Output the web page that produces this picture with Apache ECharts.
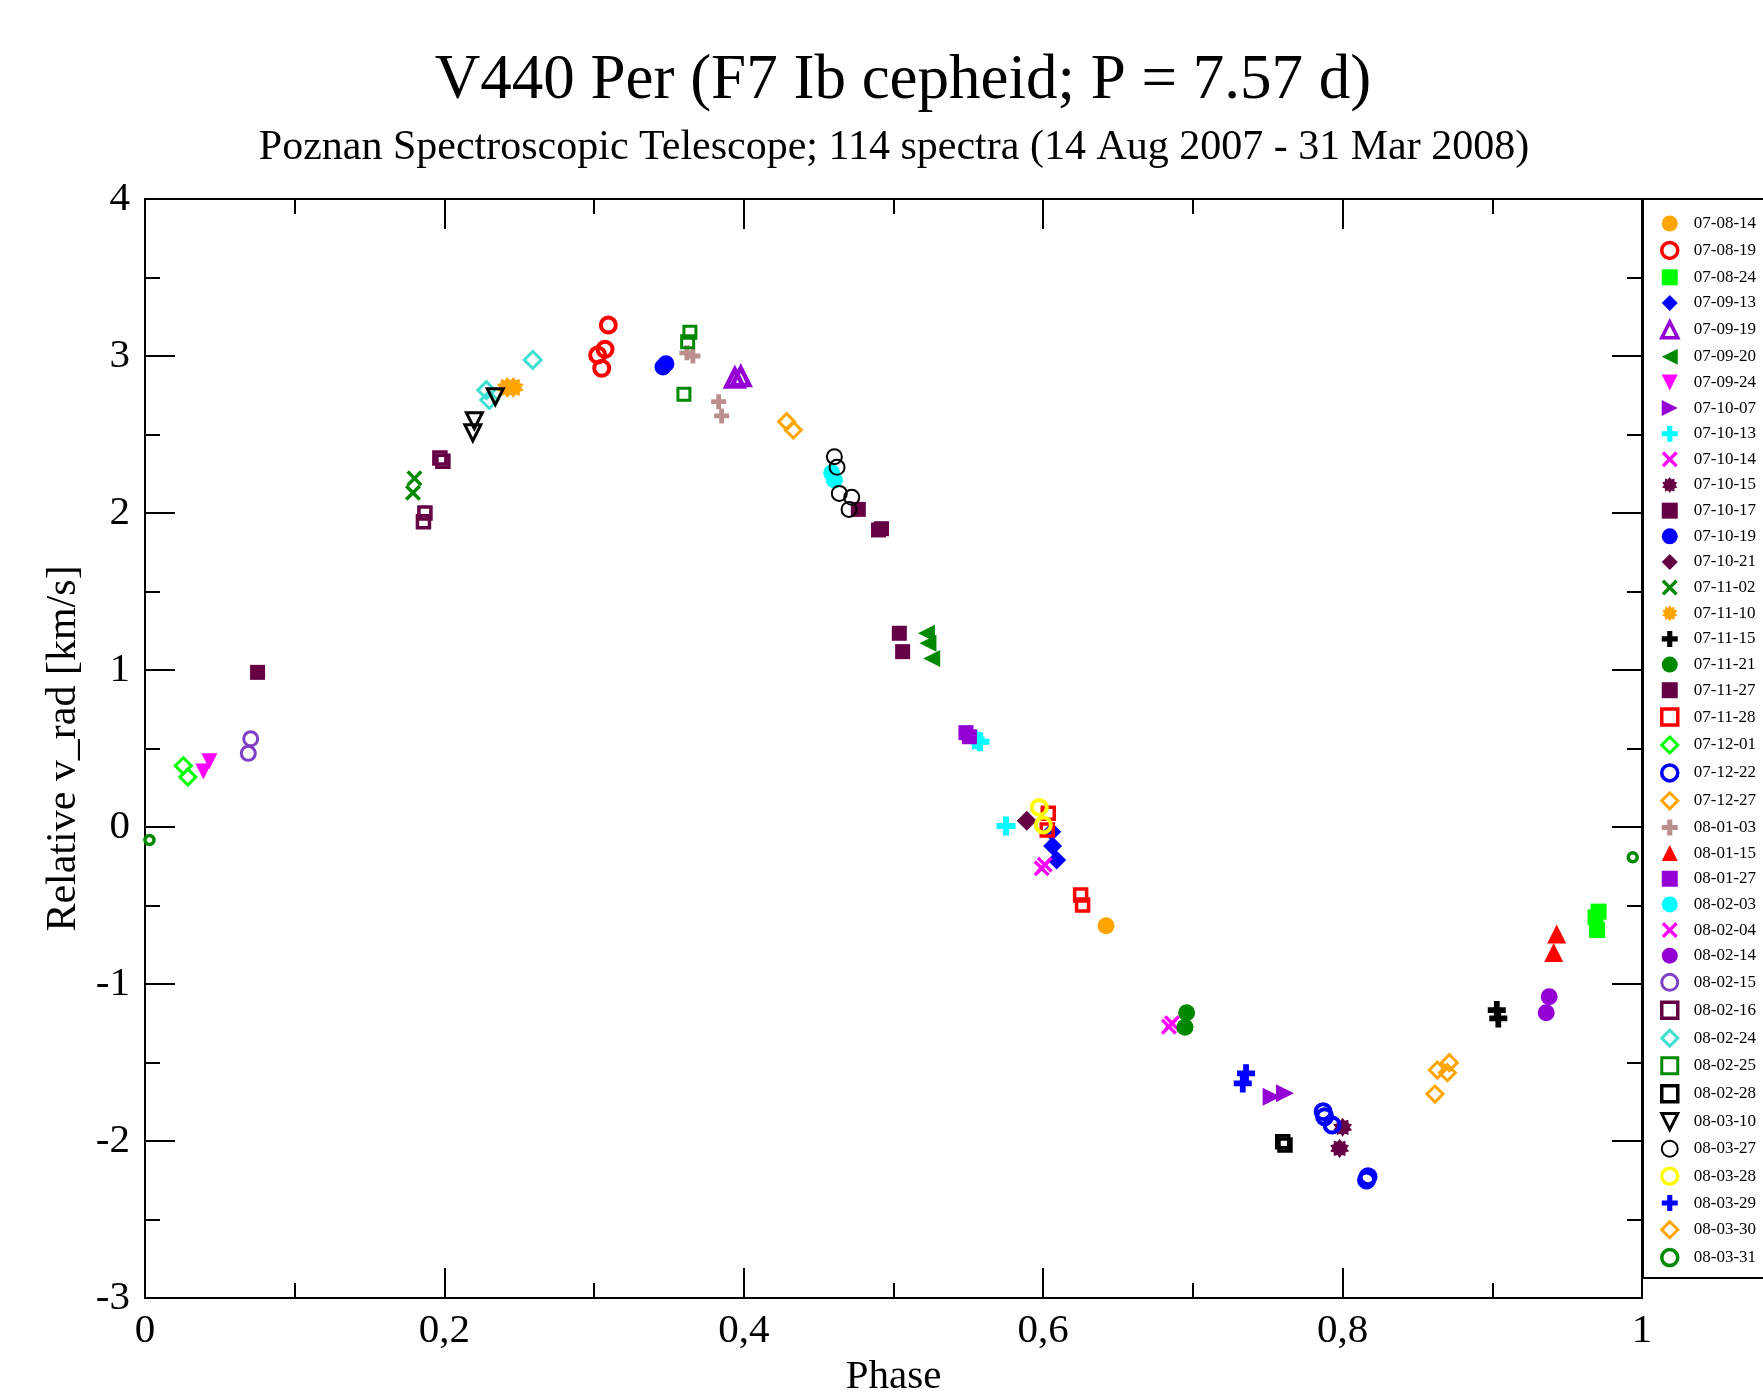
<!DOCTYPE html>
<html>
<head>
<meta charset="utf-8">
<script src="https://cdn.jsdelivr.net/npm/echarts@6/dist/echarts.min.js"></script>
<style>
html,body{margin:0;padding:0;background:#fff;}
#chart{width:1763px;height:1394px;}
</style>
</head>
<body>
<div id="chart"></div>
<script>
// ---------------- DATA ----------------
const titleText = 'V440 Per (F7 Ib cepheid; P = 7.57 d)';
const subtitleText = 'Poznan Spectroscopic Telescope; 114 spectra (14 Aug 2007 - 31 Mar 2008)';
const xTickLabels = ['0', '0,2', '0,4', '0,6', '0,8', '1'];
const dates = ['07-08-14','07-08-19','07-08-24','07-09-13','07-09-19','07-09-20','07-09-24','07-10-07',
  '07-10-13','07-10-14','07-10-15','07-10-17','07-10-19','07-10-21','07-11-02','07-11-10','07-11-15',
  '07-11-21','07-11-27','07-11-28','07-12-01','07-12-22','07-12-27','08-01-03','08-01-15','08-01-27',
  '08-02-03','08-02-04','08-02-14','08-02-15','08-02-16','08-02-24','08-02-25','08-02-28','08-03-10',
  '08-03-27','08-03-28','08-03-29','08-03-30','08-03-31'];
const phases = [
  [0.642],
  [0.3095,0.3073,0.3024,0.3051],
  [0.971,0.969,0.970],
  [0.6057,0.6063,0.609],
  [0.394,0.398],
  [0.522,0.523,0.5255],
  [0.039,0.043],
  [0.7526,0.7615],
  [0.5545,0.5578,0.5752],
  [0.684,0.686],
  [0.800,0.798],
  [0.0752,0.4765],
  [0.346,0.348],
  [0.589],
  [0.180,0.179],
  [0.242,0.246],
  [0.903,0.904],
  [0.6958,0.6947],
  [0.490,0.492,0.5039,0.5061],
  [0.6034,0.6027,0.625,0.6263],
  [0.0256,0.0286],
  [0.787,0.788,0.793,0.817,0.816],
  [0.4286,0.4331],
  [0.362,0.366,0.3832,0.3852],
  [0.943,0.941],
  [0.5484,0.5507],
  [0.4587,0.4605],
  [0.599,0.601],
  [0.938,0.936],
  [0.0706,0.069],
  [0.187,0.186,0.197,0.199],
  [0.228,0.230,0.259],
  [0.364,0.3625,0.360],
  [0.760,0.7615],
  [0.220,0.219,0.234],
  [0.4605,0.4623,0.4638,0.4721,0.4703],
  [0.5974,0.6001],
  [0.7355,0.7333],
  [0.8633,0.8713,0.870,0.8617],
  [0.003,0.9938]
];
const velocities = [
  [-0.629],
  [3.197,3.043,3.006,2.922],
  [-0.539,-0.575,-0.656],
  [-0.030,-0.121,-0.210],
  [2.86,2.87],
  [1.234,1.170,1.074],
  [0.354,0.419],
  [-1.718,-1.696],
  [0.555,0.543,0.006],
  [-1.272,-1.250],
  [-1.913,-2.047],
  [0.985,2.023],
  [2.93,2.95],
  [0.040],
  [2.221,2.129],
  [2.80,2.80],
  [-1.166,-1.219],
  [-1.183,-1.276],
  [1.892,1.900,1.234,1.117],
  [0.087,-0.019,-0.433,-0.497],
  [0.390,0.318],
  [-1.813,-1.845,-1.898,-2.227,-2.248],
  [2.582,2.529],
  [3.02,3.00,2.709,2.618],
  [-0.682,-0.800],
  [0.601,0.575],
  [2.257,2.210],
  [-0.263,-0.240],
  [-1.081,-1.183],
  [0.562,0.469],
  [2.00,1.945,2.35,2.33],
  [2.783,2.720,2.975],
  [3.151,3.091,2.756],
  [-2.004,-2.025],
  [2.588,2.511,2.741],
  [2.359,2.291,2.125,2.100,2.023],
  [0.125,0.013],
  [-1.569,-1.633],
  [-1.548,-1.501,-1.565,-1.701],
  [-0.083,-0.193]
];

// ---------------- STYLES ----------------
function starPath(n, ro, ri) {
  let s = 'path://';
  for (let i = 0; i < 2 * n; i++) {
    const r = i % 2 === 0 ? ro : ri;
    const a = Math.PI * i / n - Math.PI / 2;
    s += (i === 0 ? 'M' : 'L') + (50 + r * Math.cos(a)).toFixed(2) + ',' + (50 + r * Math.sin(a)).toFixed(2);
  }
  return s + 'Z';
}
const SYM = {
  circle: 'circle',
  rect: 'path://M0,0H100V100H0Z',
  diamond: 'path://M50,0L100,50L50,100L0,50Z',
  up: 'path://M50,0L100,100L0,100Z',
  plus: 'path://M34,0H66V34H100V66H66V100H34V66H0V34H34Z',
  cross: 'path://M15,0L50,35L85,0L100,15L65,50L100,85L85,100L50,65L15,100L0,85L35,50L0,15Z',
  left: 'path://M0,50L100,0L100,100Z',
  right: 'path://M0,0L100,50L0,100Z',
  down: 'path://M0,0L100,0L50,100Z',
  star: starPath(10, 50, 36)
};
const MAROON = '#650045', GREEN = '#008800', VIOLET = '#9400D3';
// [symbol, color, open?, size, borderWidth]
const markerStyles = [
  ['circle','#FFA500',0,17,0],
  ['circle','#FF0000',1,15,4],
  ['rect','#00FF00',0,16,0],
  ['diamond','#0000FF',0,19,0],
  ['up',VIOLET,1,17,4.5],
  ['left',GREEN,0,17,0],
  ['down','#FF00FF',0,16,0],
  ['right',VIOLET,0,18,0],
  ['plus','#00FFFF',0,19,0],
  ['cross','#FF00FF',0,16,0],
  ['star',MAROON,0,19,0],
  ['rect',MAROON,0,15,0],
  ['circle','#0000FF',0,17,0],
  ['diamond',MAROON,0,20,0],
  ['cross',GREEN,0,16,0],
  ['star','#FFA500',0,21,0],
  ['plus','#000000',0,18,0],
  ['circle',GREEN,0,17,0],
  ['rect',MAROON,0,15,0],
  ['rect','#FF0000',1,12,3.5],
  ['diamond','#00FF00',1,16,3],
  ['circle','#0000FF',1,15,4],
  ['diamond','#FFA500',1,16,3],
  ['plus','#BC8F8F',0,15,0],
  ['up','#FF0000',0,19,0],
  ['rect',VIOLET,0,15,0],
  ['circle','#00FFFF',0,17,0],
  ['cross','#FF00FF',0,16,0],
  ['circle',VIOLET,0,17,0],
  ['circle','#7D3FC4',1,14,3],
  ['rect',MAROON,1,12,3.5],
  ['diamond','#40E0D0',1,17,3],
  ['rect',GREEN,1,12,3],
  ['rect','#000000',1,12,3.5],
  ['down','#000000',1,16,3],
  ['circle','#000000',1,15,2],
  ['circle','#FFFF00',1,15,4],
  ['plus','#0000FF',0,18,0],
  ['diamond','#FFA500',1,16,3],
  ['circle',GREEN,1,9,3.5]
];

const FONT = '"Liberation Serif", "Times New Roman", serif';
const G = { left: 145, top: 199, width: 1497, height: 1099 };

function styleOf(st, bwCap) {
  return st[2] === 1
    ? { color: 'rgba(255,255,255,0)', borderColor: st[1], borderWidth: Math.min(st[4], bwCap), opacity: 1 }
    : { color: st[1], borderWidth: 0, opacity: 1 };
}

const series = dates.map((d, i) => {
  const st = markerStyles[i];
  return {
    type: 'scatter',
    name: d,
    symbol: SYM[st[0]],
    symbolSize: st[3],
    xAxisIndex: 0, yAxisIndex: 0,
    data: phases[i].map((p, k) => [p, velocities[i][k]]),
    itemStyle: styleOf(st, 10),
    emphasis: { disabled: true },
    z: 3 + i * 0.01,
    animation: false
  };
});

const legendData = dates.map((d, i) => ({
  name: d,
  itemStyle: styleOf(markerStyles[i], 3.5)
}));

const axisCommon = {
  type: 'value',
  axisLine: { show: true, onZero: false, lineStyle: { color: '#000', width: 2 } },
  axisTick: { show: true, inside: true, length: 30, lineStyle: { color: '#000', width: 2 } },
  minorTick: { show: true, splitNumber: 2, length: 15, lineStyle: { color: '#000', width: 2 } },
  splitLine: { show: false },
  minorSplitLine: { show: false }
};

const option = {
  animation: false,
  backgroundColor: '#fff',
  grid: { left: G.left, top: G.top, width: G.width, height: G.height, containLabel: false, outerBoundsMode: 'none', show: false },
  xAxis: [
    Object.assign({}, axisCommon, {
      position: 'bottom', min: 0, max: 1, interval: 0.2,
      name: 'Phase', nameLocation: 'middle', nameGap: 56,
      nameTextStyle: { fontFamily: FONT, fontSize: 41, color: '#000' },
      axisLabel: { show: true, margin: 13, fontFamily: FONT, fontSize: 41, color: '#000',
        formatter: v => xTickLabels[Math.round(v / 0.2)] }
    }),
    Object.assign({}, axisCommon, {
      position: 'top', min: 0, max: 1, interval: 0.2, axisLabel: { show: false }
    })
  ],
  yAxis: [
    Object.assign({}, axisCommon, {
      position: 'left', min: -3, max: 4, interval: 1,
      name: 'Relative v_rad [km/s]', nameLocation: 'middle', nameGap: 60, nameRotate: 90,
      nameTextStyle: { fontFamily: FONT, fontSize: 42, color: '#000' },
      axisLabel: { show: true, margin: 15, fontFamily: FONT, fontSize: 41, color: '#000' }
    }),
    Object.assign({}, axisCommon, {
      position: 'right', min: -3, max: 4, interval: 1, axisLabel: { show: false }
    })
  ],
  legend: {
    show: true,
    orient: 'vertical',
    left: 1660, top: 215,
    itemWidth: 38, itemHeight: 16, itemGap: 8.65,
    padding: 0,
    selectedMode: false,
    symbolKeepAspect: true,
    textStyle: { fontFamily: FONT, fontSize: 17, color: '#000', lineHeight: 16, width: 60, overflow: 'none' },
    data: legendData
  },
  graphic: [
    { type: 'text', x: 903, y: 81, z: 10,
      style: { text: titleText, fontFamily: FONT, fontSize: 63, fill: '#000', align: 'center', verticalAlign: 'middle' } },
    { type: 'text', x: 894, y: 148, z: 10,
      style: { text: subtitleText, fontFamily: FONT, fontSize: 42, fill: '#000', align: 'center', verticalAlign: 'middle' } },
    { type: 'rect', z: 0, shape: { x: 1643, y: 199, width: 200, height: 1079 },
      style: { fill: 'none', stroke: '#000', lineWidth: 2 } }
  ],
  series: series
};

const chart = echarts.init(document.getElementById('chart'), null, { renderer: 'canvas' });
chart.setOption(option);
</script>
</body>
</html>
